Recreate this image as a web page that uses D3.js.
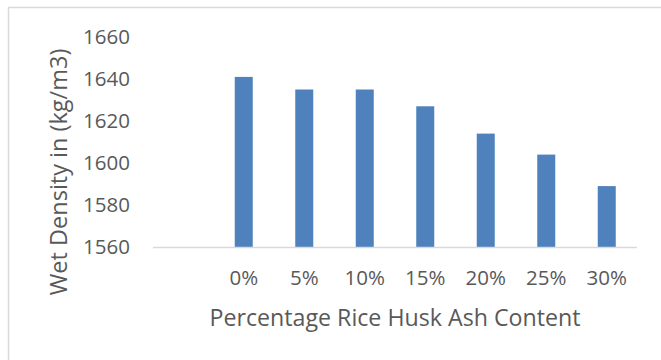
<!DOCTYPE html>
<html>
<head>
<meta charset="utf-8">
<script src="https://cdn.jsdelivr.net/npm/d3@7"></script>
<style>
  body { margin: 0; background: #fff; }
  svg { display: block; }
</style>
</head>
<body>
<div id="chart"></div>
<script>
var width = 661,
    height = 360;

// slot 0 is empty in the original chart
var categories = ["", "0%", "5%", "10%", "15%", "20%", "25%", "30%"];
var densities = [null, 1641, 1635, 1635, 1627, 1614, 1604, 1589];
var yTicks = [1560, 1580, 1600, 1620, 1640, 1660];

var PLOT_LEFT = 153, PLOT_RIGHT = 637;
var PLOT_TOP = 37, PLOT_BOTTOM = 247;
var TEXT_COLOR = "#595959";
var BAR_COLOR = "#4F81BD";
var FONT = "'Open Sans', sans-serif";

var svg = d3.select("#chart").append("svg")
    .attr("width", width)
    .attr("height", height);

// chart frame (only left and top edges are visible in the crop)
svg.append("line")
    .attr("x1", 8.5).attr("x2", 8.5).attr("y1", 7.5).attr("y2", height)
    .attr("stroke", "#d9d9d9").attr("stroke-width", 1.5);
svg.append("line")
    .attr("x1", 8).attr("x2", width).attr("y1", 7.5).attr("y2", 7.5)
    .attr("stroke", "#d9d9d9").attr("stroke-width", 1.5);

var x = d3.scaleBand()
    .domain(categories.map(function(d, i) { return i; }))
    .range([PLOT_LEFT, PLOT_RIGHT])
    .paddingInner(0.7)
    .paddingOuter(0.35);

var y = d3.scaleLinear()
    .domain([1560, 1660])
    .range([PLOT_BOTTOM, PLOT_TOP]);

var barData = densities.map(function(v, i) { return {i: i, v: v}; })
    .filter(function(d) { return d.v !== null; });

svg.selectAll("rect.bar")
    .data(barData)
    .enter()
    .append("rect")
        .attr("class", "bar")
        .attr("x", function(d) { return x(d.i) + x.bandwidth() / 2 - 9; })
        .attr("width", 18)
        .attr("y", function(d) { return y(d.v); })
        .attr("height", function(d) { return y(1560) - y(d.v); })
        .style("fill", BAR_COLOR);

// baseline
svg.append("line")
    .attr("x1", PLOT_LEFT).attr("x2", PLOT_RIGHT)
    .attr("y1", y(1560) + 0.5).attr("y2", y(1560) + 0.5)
    .attr("stroke", "#d9d9d9").attr("stroke-width", 1.5);

// y tick labels
svg.selectAll("text.ytick")
    .data(yTicks)
    .enter()
    .append("text")
        .attr("class", "ytick")
        .attr("x", 130)
        .attr("y", function(d) { return y(d); })
        .attr("dy", "0.35em")
        .attr("text-anchor", "end")
        .attr("fill", TEXT_COLOR)
        .attr("font-family", FONT)
        .attr("font-size", "20.5px")
        .text(function(d) { return d; });

// x tick labels
svg.selectAll("text.xtick")
    .data(categories.map(function(c, i) { return {c: c, i: i}; }).filter(function(d) { return d.c; }))
    .enter()
    .append("text")
        .attr("class", "xtick")
        .attr("x", function(d) { return x(d.i) + x.bandwidth() / 2; })
        .attr("y", 278)
        .attr("dy", "0.35em")
        .attr("text-anchor", "middle")
        .attr("fill", TEXT_COLOR)
        .attr("font-family", FONT)
        .attr("font-size", "20.5px")
        .text(function(d) { return d.c; });

// axis titles
svg.append("text")
    .attr("x", (PLOT_LEFT + PLOT_RIGHT) / 2)
    .attr("y", 326)
    .attr("text-anchor", "middle")
    .attr("fill", TEXT_COLOR)
    .attr("font-family", FONT)
    .attr("font-size", "23.2px")
    .text("Percentage Rice Husk Ash Content");

svg.append("text")
    .attr("transform", "translate(67,172) rotate(-90)")
    .attr("text-anchor", "middle")
    .attr("fill", TEXT_COLOR)
    .attr("font-family", FONT)
    .attr("font-size", "23.5px")
    .text("Wet Density in (kg/m3)");
</script>
</body>
</html>
